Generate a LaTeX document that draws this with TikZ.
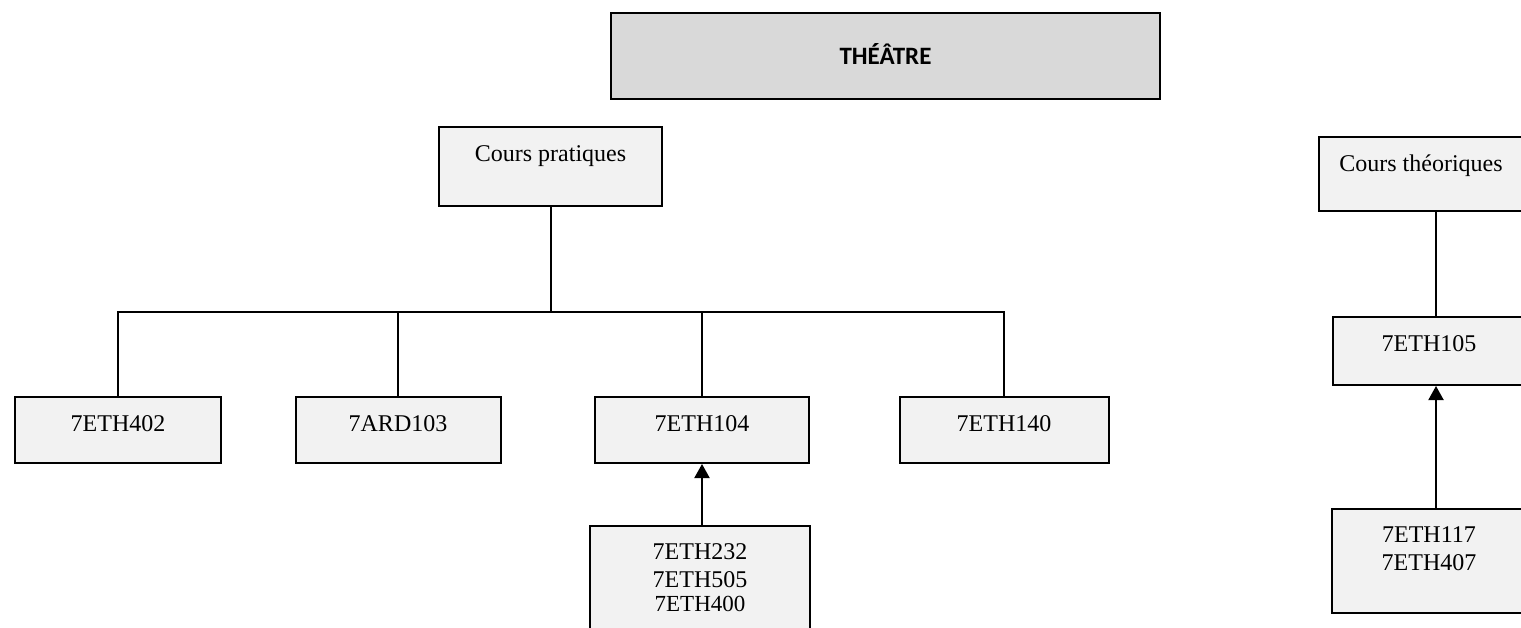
\documentclass[tikz,border=0pt]{standalone}
\usepackage{fontspec}
\setmainfont{Liberation Serif}
\newfontfamily\titlefont{Carlito}
\usepackage{tikz}
\usetikzlibrary{arrows.meta,positioning}
\definecolor{thgray}{RGB}{217,217,217}
\definecolor{thlight}{RGB}{242,242,242}
\tikzstyle{arrow} = [line width=1pt,-{Triangle[length=7pt,width=7.5pt]}]
\tikzstyle{link} = [line width=1pt]
\tikzstyle{course} = [rectangle, draw=black, line width=1pt, fill=thlight, inner xsep=0pt, inner ysep=0pt, text height=17pt, font=\fontsize{12}{14}\selectfont]

\begin{document}
\begin{tikzpicture}[x=0.5pt, y=-0.5pt]
\useasboundingbox (0,0) rectangle (1521,627);
\clip (0,0) rectangle (1521,627);
% Title
\node (theatre) [course, fill=thgray, line width=1.3pt, minimum width=274.5pt, minimum height=43pt, text height=8pt, text depth=0pt] at (885.5,56) {\titlefont\fontsize{12.5}{14}\selectfont\bfseries THÉÂTRE};

% Main categories
\node (pratiques) [course, text depth=22.5pt, minimum width=111.5pt, node distance=55.25pt, below of=theatre, xshift=-167.5pt] {Cours pratiques};
\node (theoriques) [course, text depth=20pt, minimum width=102pt, node distance=59pt, below of=theatre, xshift=267.75pt] {Cours théoriques};
\node[coordinate, node distance=72.75pt, below of=pratiques] (bus) {};

% Practical courses
\node (e402) [course, text depth=16pt, minimum width=103pt, node distance=131.75pt, below of=pratiques, xshift=-216.25pt] {7ETH402};
\node (a103) [course, text depth=16pt, minimum width=102.5pt, node distance=131.75pt, below of=pratiques, xshift=-76.25pt] {7ARD103};
\node (e104) [course, text depth=16pt, minimum width=107pt, node distance=131.75pt, below of=pratiques, xshift=75.75pt] {7ETH104};
\node (e140) [course, text depth=16pt, minimum width=104.5pt, node distance=131.75pt, below of=pratiques, xshift=226.75pt] {7ETH140};
\node (prereq) [course, text height=16.5pt, text depth=43.5pt, minimum width=110pt, node distance=78pt, below of=e104, xshift=-1pt] {\parbox[t]{110pt}{\centering 7ETH232\\7ETH505\\[-2pt]{\fontsize{11.5}{14}\selectfont 7ETH400}}};

% Theoretical courses
\node (e105) [course, text depth=17pt, minimum width=96pt, node distance=88.5pt, below of=theoriques, xshift=4pt] {7ETH105};
\node (e117) [course, text height=16.5pt, text depth=35.5pt, minimum width=97pt, node distance=105pt, below of=e105] {\parbox[t]{97pt}{\centering 7ETH117\\7ETH407}};

% Links
\draw[link] (pratiques) -- (bus);
\draw[link] (bus) -| (e402);
\draw[link] (bus) -| (a103);
\draw[link] (bus) -| (e104);
\draw[link] (bus) -| (e140);
\draw[arrow] (prereq.north -| e104.south) -- (e104.south);
\draw[link] ([xshift=3.5pt]e105.north) -- ([xshift=3.5pt]e105.north |- theoriques.south);
\draw[arrow] ([xshift=3.5pt]e117.north) -- ([xshift=3.5pt]e105.south);
\end{tikzpicture}
\end{document}
